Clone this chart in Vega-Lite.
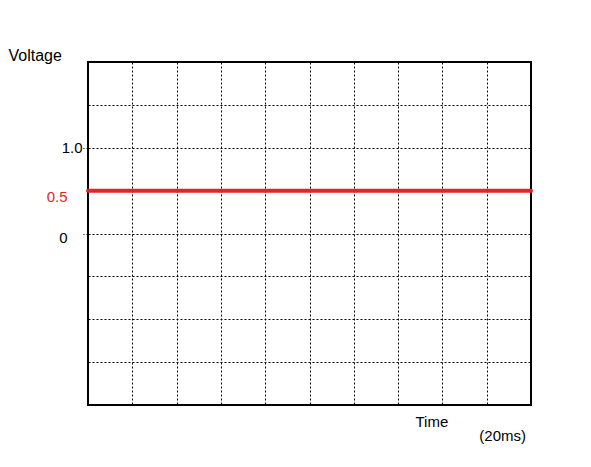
{
  "$schema": "https://vega.github.io/schema/vega-lite/v6.json",
  "width": 443,
  "height": 343,
  "autosize": {"type": "none"},
  "padding": {"left": 88, "top": 62, "right": 60, "bottom": 62},
  "background": "white",
  "config": {
    "view": {"stroke": "#000", "strokeWidth": 2},
    "font": "Liberation Sans"
  },
  "title": {
    "text": "(20ms)",
    "orient": "bottom",
    "anchor": "end",
    "frame": "group",
    "font": "Liberation Sans",
    "fontSize": 15,
    "fontWeight": "normal",
    "color": "#000",
    "offset": 0,
    "dx": -5
  },
  "data": {"values": [{"time": 0, "voltage": 0.5}, {"time": 10, "voltage": 0.5}]},
  "mark": {"type": "line", "color": "#e0262b", "strokeWidth": 4, "strokeCap": "round", "clip": false},
  "encoding": {
    "x": {
      "field": "time",
      "type": "quantitative",
      "scale": {"domain": [0, 10], "nice": false},
      "axis": {
        "values": [0, 1, 2, 3, 4, 5, 6, 7, 8, 9, 10],
        "grid": true,
        "gridColor": "#000",
        "gridDash": [2, 2],
        "gridWidth": 1,
        "labels": false,
        "ticks": false,
        "domain": false,
        "title": "Time",
        "titleFont": "Liberation Sans",
        "titleFontSize": 15,
        "titleFontWeight": "normal",
        "titleColor": "#000",
        "titleX": 327,
        "titleY": 21,
        "titleAlign": "left",
        "titleBaseline": "alphabetic"
      }
    },
    "y": {
      "field": "voltage",
      "type": "quantitative",
      "scale": {"domain": [-2, 2], "nice": false},
      "axis": {
        "values": [-2, -1.5, -1, -0.5, 0, 0.5, 1, 1.5, 2],
        "grid": true,
        "gridColor": "#000",
        "gridDash": [2, 2],
        "gridWidth": 1,
        "domain": false,
        "tickSize": 5,
        "tickColor": "#000",
        "tickDash": [2, 2],
        "tickOpacity": {"condition": {"test": "datum.value == 0 || datum.value == 1", "value": 1}, "value": 0},
        "labelExpr": "datum.value == 1 ? '1.0' : datum.value == 0.5 ? '0.5' : datum.value == 0 ? '0' : ''",
        "labelFont": "Liberation Sans",
        "labelFontSize": 15,
        "labelBaseline": "middle",
        "labelColor": {"condition": {"test": "datum.value == 0.5", "value": "#e0262b"}, "value": "#000"},
        "labelPadding": {"condition": {"test": "datum.value == 1", "value": 1}, "value": 16},
        "labelOffset": {"condition": [{"test": "datum.value == 0.5", "value": 6}, {"test": "datum.value == 0", "value": 4}], "value": 0},
        "title": "Voltage",
        "titleAngle": 0,
        "titleFont": "Liberation Sans",
        "titleFontSize": 16,
        "titleFontWeight": "normal",
        "titleColor": "#000",
        "titleX": -80,
        "titleY": -2,
        "titleAlign": "left",
        "titleBaseline": "alphabetic"
      }
    }
  }
}
